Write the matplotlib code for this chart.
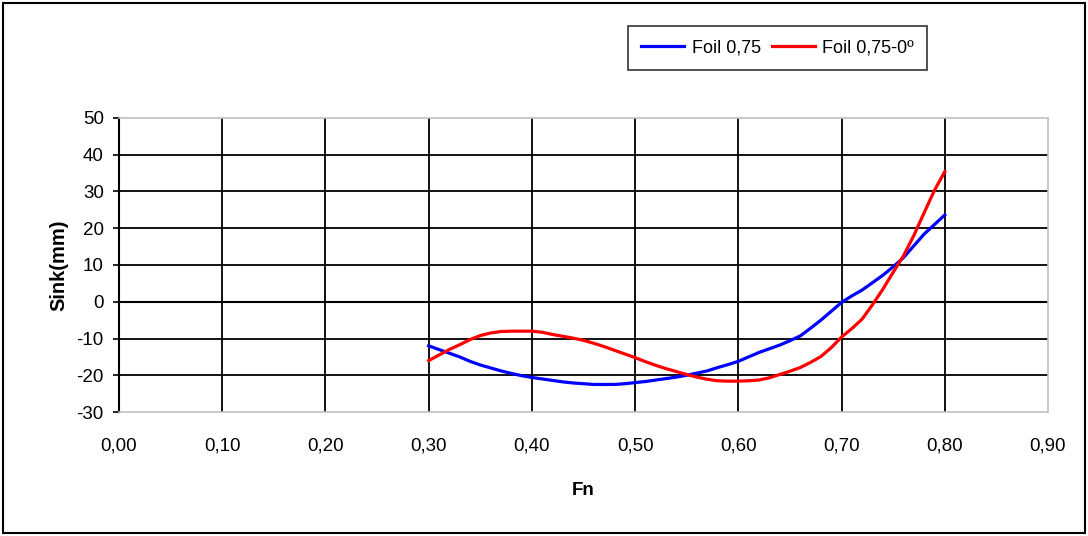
import matplotlib
matplotlib.use("Agg")
import matplotlib.pyplot as plt
from matplotlib.ticker import FixedLocator, FuncFormatter
from matplotlib.patches import Rectangle

fn = [0.30, 0.31, 0.32, 0.33, 0.34, 0.35, 0.36, 0.37, 0.38, 0.39,
      0.40, 0.41, 0.42, 0.43, 0.44, 0.45, 0.46, 0.47, 0.48, 0.49,
      0.50, 0.51, 0.52, 0.53, 0.54, 0.55, 0.56, 0.57, 0.58, 0.59,
      0.60, 0.61, 0.62, 0.63, 0.64, 0.65, 0.66, 0.67, 0.68, 0.69,
      0.70, 0.71, 0.72, 0.73, 0.74, 0.75, 0.76, 0.77, 0.78, 0.79, 0.80]

foil_075 = [-12.0, -13.0, -14.0, -15.0, -16.2, -17.2, -18.0, -18.8, -19.5, -20.1,
            -20.6, -21.0, -21.4, -21.8, -22.1, -22.3, -22.5, -22.5, -22.5, -22.3,
            -22.0, -21.7, -21.3, -20.9, -20.5, -20.0, -19.4, -18.8, -17.9, -17.1,
            -16.2, -15.0, -13.8, -12.8, -11.8, -10.6, -9.3, -7.2, -5.0, -2.6,
            -0.2, 1.6, 3.2, 5.2, 7.2, 9.5, 12.0, 15.2, 18.4, 21.0, 23.6]

foil_075_0 = [-16.0, -14.5, -13.0, -11.7, -10.3, -9.2, -8.5, -8.1, -8.0, -8.0,
              -8.0, -8.3, -8.9, -9.4, -9.9, -10.5, -11.3, -12.2, -13.2, -14.2,
              -15.2, -16.3, -17.3, -18.2, -19.0, -19.8, -20.5, -21.1, -21.5, -21.6,
              -21.6, -21.5, -21.3, -20.7, -19.8, -18.9, -17.9, -16.5, -14.9, -12.5,
              -9.6, -7.3, -4.7, -0.8, 3.4, 8.0, 12.5, 18.0, 24.2, 30.3, 35.4]

x_ticks = [0.0, 0.1, 0.2, 0.3, 0.4, 0.5, 0.6, 0.7, 0.8, 0.9]
y_ticks = [-30, -20, -10, 0, 10, 20, 30, 40, 50]
series_names = ["Foil 0,75", "Foil 0,75-0º"]

plt.rcParams['font.family'] = ['Liberation Sans', 'DejaVu Sans']

fig = plt.figure(figsize=(10.88, 5.36), dpi=100)
fig.patch.set_facecolor('white')
fig.patches.append(Rectangle((0.003, 0.005), 0.994, 0.99, transform=fig.transFigure,
                             fill=False, edgecolor='black', linewidth=1.5))

ax = fig.add_axes([0.1094, 0.2313, 0.8538, 0.5486])
ax.set_xlim(0, 0.9)
ax.set_ylim(-30, 50)

# grid lines
for xv in x_ticks[1:-1]:
    ax.axvline(xv, color='black', linewidth=1.3, zorder=1)
for yv in y_ticks[1:-1]:
    ax.axhline(yv, color='black', linewidth=1.3 if yv != 0 else 1.5, zorder=1)

ax.plot(fn, foil_075, color='#0000ff', linewidth=2.3, label=series_names[0], zorder=3)
ax.plot(fn, foil_075_0, color='#ff0000', linewidth=2.3, label=series_names[1], zorder=3)

for s in ['top', 'right', 'bottom']:
    ax.spines[s].set_color('#c0c0c0')
    ax.spines[s].set_linewidth(1.2)
ax.spines['left'].set_color('black')
ax.spines['left'].set_linewidth(1.5)

ax.xaxis.set_major_locator(FixedLocator(x_ticks))
ax.yaxis.set_major_locator(FixedLocator(y_ticks))
ax.xaxis.set_major_formatter(FuncFormatter(lambda v, p: f"{v:.2f}".replace('.', ',')))
ax.yaxis.set_major_formatter(FuncFormatter(lambda v, p: f"{int(round(v))}"))
ax.tick_params(axis='x', length=0, pad=18, labelsize=13.5)
ax.tick_params(axis='y', length=4, width=1.2, direction='out', pad=7, labelsize=13.5)

ax.set_xlabel("Fn", fontsize=13.5, fontweight='bold', labelpad=20)
ax.set_ylabel("Sink(mm)", fontsize=14.5, fontweight='bold', labelpad=6)

leg = fig.legend(loc='center', bbox_to_anchor=(0.7146, 0.9104), ncol=2, fontsize=13,
                 frameon=True, fancybox=False, edgecolor='black', borderpad=0.75,
                 handlelength=2.4, handletextpad=0.4, columnspacing=0.6,
                 borderaxespad=0)
leg.get_frame().set_linewidth(1.2)

fig.savefig("out.png", dpi=100, facecolor='white')
